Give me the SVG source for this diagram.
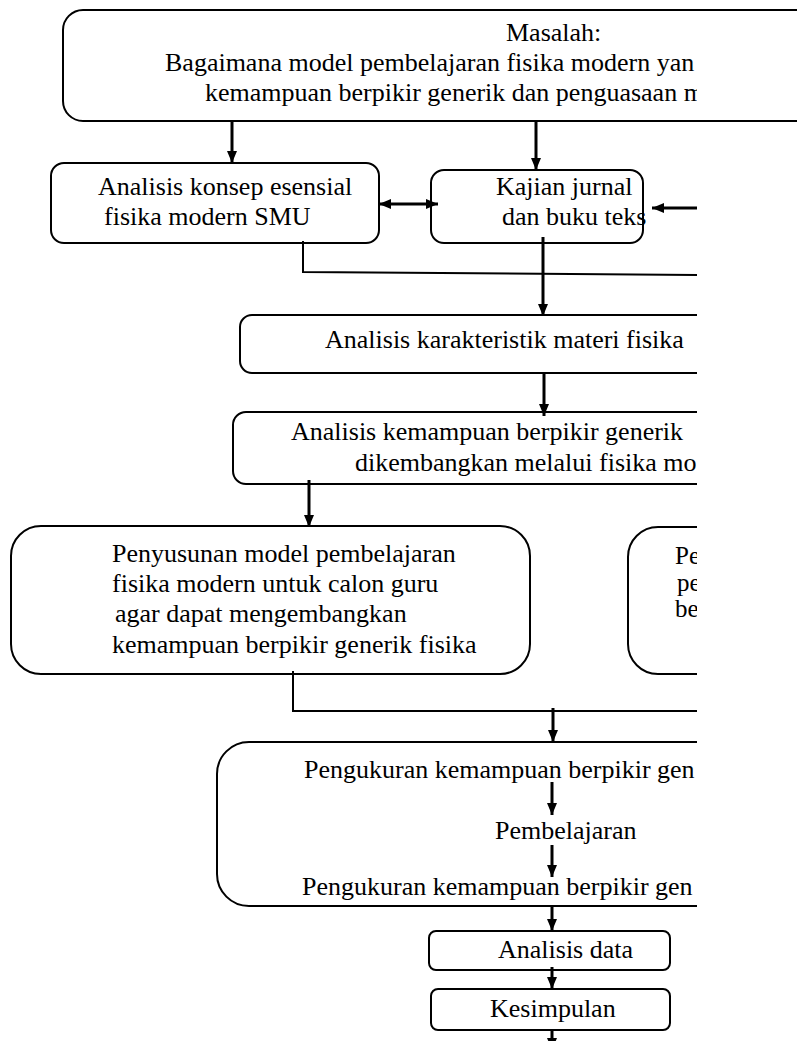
<svg xmlns="http://www.w3.org/2000/svg" width="797" height="1041" viewBox="0 0 797 1041">
<style>
  .box { fill: #fff; stroke: #000; stroke-width: 2; }
  .t { font-family: "Liberation Serif", "Times New Roman", serif; font-size: 26px; fill: #000; }
  .t2 { font-family: "Liberation Serif", "Times New Roman", serif; font-size: 25px; fill: #000; }
  .arr { stroke: #000; stroke-width: 3; fill: none; marker-end: url(#ah); }
  .ln { stroke: #000; stroke-width: 2; fill: none; }
</style>
<defs>
  <marker id="ah" viewBox="0 0 12 10" refX="12" refY="5" markerWidth="12" markerHeight="10" markerUnits="userSpaceOnUse" orient="auto-start-reverse">
    <path d="M0,0 L12,5 L0,10 z" fill="#000"/>
  </marker>
  <clipPath id="cut"><rect x="0" y="0" width="697" height="1041"/></clipPath>
</defs>
<rect width="797" height="1041" fill="#fff"/>

<g id="n-masalah">
  <rect class="box" x="63" y="10" width="780" height="111" rx="20" ry="20"/>
  <g clip-path="url(#cut)">
    <text class="t" x="506" y="41">Masalah:</text>
    <text class="t" x="165" y="71">Bagaimana model pembelajaran fisika modern yan</text>
    <text class="t" x="205" y="101">kemampuan berpikir generik dan penguasaan m</text>
  </g>
</g>

<g clip-path="url(#cut)">
<g id="n-konsep">
  <rect class="box" x="51" y="163" width="328" height="80" rx="13" ry="13"/>
  <text class="t" x="98" y="195">Analisis konsep esensial</text>
  <text class="t" x="104" y="225">fisika modern SMU</text>
</g>

<g id="n-kajian">
  <rect class="box" x="431" y="170" width="212" height="73" rx="13" ry="13"/>
  <text class="t" x="496" y="195">Kajian jurnal</text>
  <text class="t" x="502" y="225">dan buku teks</text>
</g>

<g id="n-karakteristik">
  <rect class="box" x="240" y="315" width="560" height="58" rx="12" ry="12"/>
  <text class="t" x="325" y="348">Analisis karakteristik materi fisika</text>
</g>

<g id="n-kemampuan">
  <rect class="box" x="233" y="412" width="567" height="72" rx="13" ry="13"/>
  <text class="t" x="291" y="440">Analisis kemampuan berpikir generik</text>
  <text class="t" x="355" y="471">dikembangkan melalui fisika mo</text>
</g>

<g id="n-penyusunan">
  <rect class="box" x="11" y="526" width="519" height="148" rx="30" ry="30"/>
  <text class="t" x="112" y="562">Penyusunan model pembelajaran</text>
  <text class="t" x="112" y="592">fisika modern untuk calon guru</text>
  <text class="t" x="115" y="622">agar dapat mengembangkan</text>
  <text class="t" x="112" y="653">kemampuan berpikir generik fisika</text>
</g>

<g id="n-kanan">
  <rect class="box" x="628" y="527" width="220" height="147" rx="30" ry="30"/>
  <text class="t2" x="675" y="564">Pe</text>
  <text class="t2" x="677" y="591">pe</text>
  <text class="t2" x="675" y="617">be</text>
</g>

<g id="n-pengukuran">
  <rect class="box" x="217" y="742" width="600" height="164" rx="32" ry="32"/>
  <text class="t" x="304" y="778">Pengukuran kemampuan berpikir gen</text>
  <text class="t" x="495" y="839">Pembelajaran</text>
  <text class="t" x="302" y="895">Pengukuran kemampuan berpikir gen</text>
</g>

<g id="n-analisisdata">
  <rect class="box" x="429" y="931" width="241" height="39" rx="7" ry="7"/>
  <text class="t" x="498" y="958">Analisis data</text>
</g>

<g id="n-kesimpulan">
  <rect class="box" x="431" y="989" width="239" height="41" rx="7" ry="7"/>
  <text class="t" x="490" y="1017">Kesimpulan</text>
</g>

<g id="connectors">
  <line class="arr" x1="232" y1="121" x2="232" y2="163"/>
  <line class="arr" x1="536" y1="121" x2="536" y2="170"/>
  <line class="arr" x1="379" y1="204" x2="438" y2="204" style="marker-start:url(#ah)"/>
  <line class="arr" x1="700" y1="208" x2="652" y2="208"/>
  <polyline class="ln" points="303,241 303,272 700,275"/>
  <line class="arr" x1="543" y1="237" x2="543" y2="316"/>
  <line class="arr" x1="544" y1="373" x2="544" y2="416"/>
  <line class="arr" x1="309" y1="480" x2="309" y2="527"/>
  <polyline class="ln" points="293,671 293,711 700,711"/>
  <line class="arr" x1="553" y1="708" x2="553" y2="742"/>
  <line class="arr" x1="552" y1="782" x2="552" y2="815"/>
  <line class="arr" x1="552" y1="845" x2="552" y2="877"/>
  <line class="arr" x1="552" y1="906" x2="552" y2="931"/>
  <line class="arr" x1="552" y1="967" x2="552" y2="989"/>
  <line class="arr" x1="552" y1="1030" x2="552" y2="1050"/>
</g>
</g>
</svg>
